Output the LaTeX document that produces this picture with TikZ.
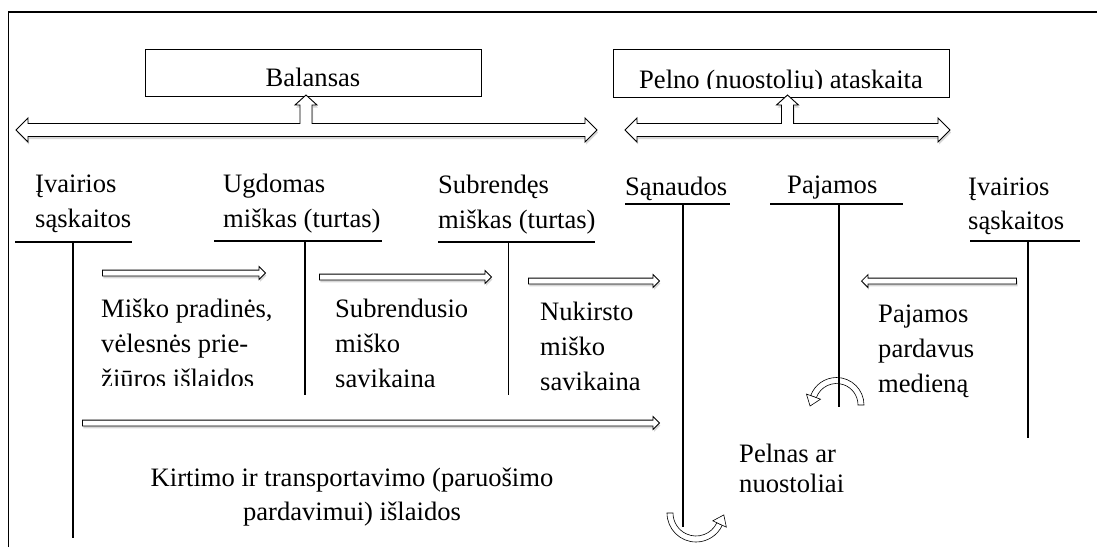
\documentclass[tikz,border=0pt]{standalone}
\usepackage{fontspec}
\setmainfont{Liberation Serif}
\usetikzlibrary{shapes.arrows,shadows,calc}

\tikzset{
  lbl/.style={font=\fontsize{26.6}{30}\selectfont, inner sep=0pt, anchor=base west},
  ttl/.style={lbl, anchor=base},
  box/.style={draw, line width=0.8pt, inner sep=0pt},
  tline/.style={line width=1.1pt},
  shade/.style={drop shadow={fill=black!45, opacity=0.35, shadow xshift=1pt, shadow yshift=-2.5pt}},
  flow/.style={single arrow, draw, fill=white, line width=0.8pt, inner xsep=0pt,
    inner ysep=2.5pt, minimum width=0pt, single arrow head extend=3.5pt, shade},
  bigarrow/.style={draw, fill=white, line width=0.9pt, shade},
  band/.style={draw, fill=white, line width=0.6pt},
}

\begin{document}
\begin{tikzpicture}[x=1pt, y=-1pt]
  \useasboundingbox (0,0) rectangle (1097,547);
  \draw[line width=1.3pt] (8.5,547) -- (8.5,12) -- (1097,12);

  % ataskaitos
  \node[box, minimum width=336pt, minimum height=47pt] (bal) at (313,72.5) {};
  \node[ttl] (baltxt) at (313,86) {Balansas};
  \node[box, minimum width=336pt, minimum height=48pt] (pel) at (781,73) {};
  \begin{scope}
    \clip (613,49) rectangle (949,88);
    \node[ttl] (peltxt) at (781,88) {Pelno (nuostolių) ataskaita};
  \end{scope}

  \draw[bigarrow] (16,130) -- (28,118) -- (28,123.5) -- (300,123.5) -- (300,105)
    -- (295,105) -- (306,95) -- (317,105) -- (312,105) -- (312,123.5)
    -- (585,123.5) -- (585,118) -- (597,130) -- (585,142) -- (585,136.5)
    -- (28,136.5) -- (28,142) -- cycle;
  \draw[bigarrow] (625,130) -- (637,118) -- (637,123.5) -- (781.5,123.5) -- (781.5,105)
    -- (776.5,105) -- (787.5,95) -- (798.5,105) -- (793.5,105) -- (793.5,123.5)
    -- (938,123.5) -- (938,118) -- (950,130) -- (938,142) -- (938,136.5)
    -- (637,136.5) -- (637,142) -- cycle;

  % saskaitos
  \node[lbl] (iv1) at (35,192) {Įvairios};
  \node[lbl] (iv2) at (35,227) {sąskaitos};
  \node[lbl] (ug1) at (223,192) {Ugdomas};
  \node[lbl] (ug2) at (223,227) {miškas (turtas)};
  \node[lbl] (sb1) at (438,193.5) {Subrendęs};
  \node[lbl] (sb2) at (438,228.5) {miškas (turtas)};
  \node[lbl] (san) at (625,195) {Sąnaudos};
  \node[lbl] (paj) at (787,193.5) {Pajamos};
  \node[lbl] (ivr1) at (968,195) {Įvairios};
  \node[lbl] (ivr2) at (968,229) {sąskaitos};

  % srautai
  \node[flow, minimum height=163pt] (ar1) at (182.5,273) {};
  \node[flow, minimum height=172pt] (ar2) at (404,277) {};
  \node[flow, minimum height=131pt] (ar3) at (592.5,281) {};
  \node[flow, minimum height=577pt] (ar4) at (369.5,423) {};
  \node[flow, minimum height=155pt, shape border rotate=180] (ar5) at (940.5,281) {};

  \node[lbl] (mp1) at (101,317) {Miško pradinės,};
  \node[lbl] (mp2) at (101,352) {vėlesnės prie-};
  \begin{scope}
    \clip (90,360) rectangle (300,385);
    \node[lbl] (mp3) at (101,387) {žiūros išlaidos};
  \end{scope}
  \node[lbl] (sv1) at (335,317) {Subrendusio};
  \node[lbl] (sv2) at (335,352) {miško};
  \node[lbl] (sv3) at (335,387) {savikaina};
  \node[lbl] (nk1) at (540,320) {Nukirsto};
  \node[lbl] (nk2) at (540,355) {miško};
  \node[lbl] (nk3) at (540,390) {savikaina};
  \node[ttl] (kt1) at (352,486) {Kirtimo ir transportavimo (paruošimo};
  \node[ttl] (kt2) at (352,520) {pardavimui) išlaidos};
  \node[lbl] (pn1) at (739,462) {Pelnas ar};
  \node[lbl] (pn2) at (739,492) {nuostoliai};
  \node[lbl] (pm1) at (878,322) {Pajamos};
  \node[lbl] (pm2) at (878,357) {pardavus};
  \node[lbl] (pm3) at (878,392) {medieną};

  % lenktos rodykles
  \coordinate (pjc) at (836.5,405);
  \draw[band] (864,405) arc[start angle=0, end angle=-160, radius=27.5]
    -- ++(20:6) arc[start angle=-160, end angle=0, radius=21.5] -- cycle;
  \draw[band] ($(pjc)+(-160:17)$) -- ($(pjc)+(-160:32)$)
    -- ($(pjc)+(-160:24.5)+(110:10)$) -- cycle;
  \coordinate (snc) at (696,513);
  \draw[band] (667,513) arc[start angle=180, end angle=25, radius=29]
    -- ++(205:6) arc[start angle=25, end angle=180, radius=23] -- cycle;
  \draw[band] ($(snc)+(25:18.5)$) -- ($(snc)+(25:33.5)$)
    -- ($(snc)+(25:26)+(-65:10)$) -- cycle;

  % T saskaitos
  \draw[tline] (15,242) -- (132,242);
  \draw[tline] (73,242) -- (73,538);
  \draw[tline] (214,241) -- (382,241);
  \draw[tline] (305,241) -- (305,395);
  \draw[tline] (438,242) -- (595,242);
  \draw[tline] (508.5,242) -- (508.5,395);
  \draw[tline] (625,204) -- (730,204);
  \draw[tline] (683,204) -- (683,527);
  \draw[tline] (770,204) -- (903,204);
  \draw[tline] (839,204) -- (839,407);
  \draw[tline] (970,241) -- (1080,241);
  \draw[tline] (1028,241) -- (1028,438);
\end{tikzpicture}
\end{document}
